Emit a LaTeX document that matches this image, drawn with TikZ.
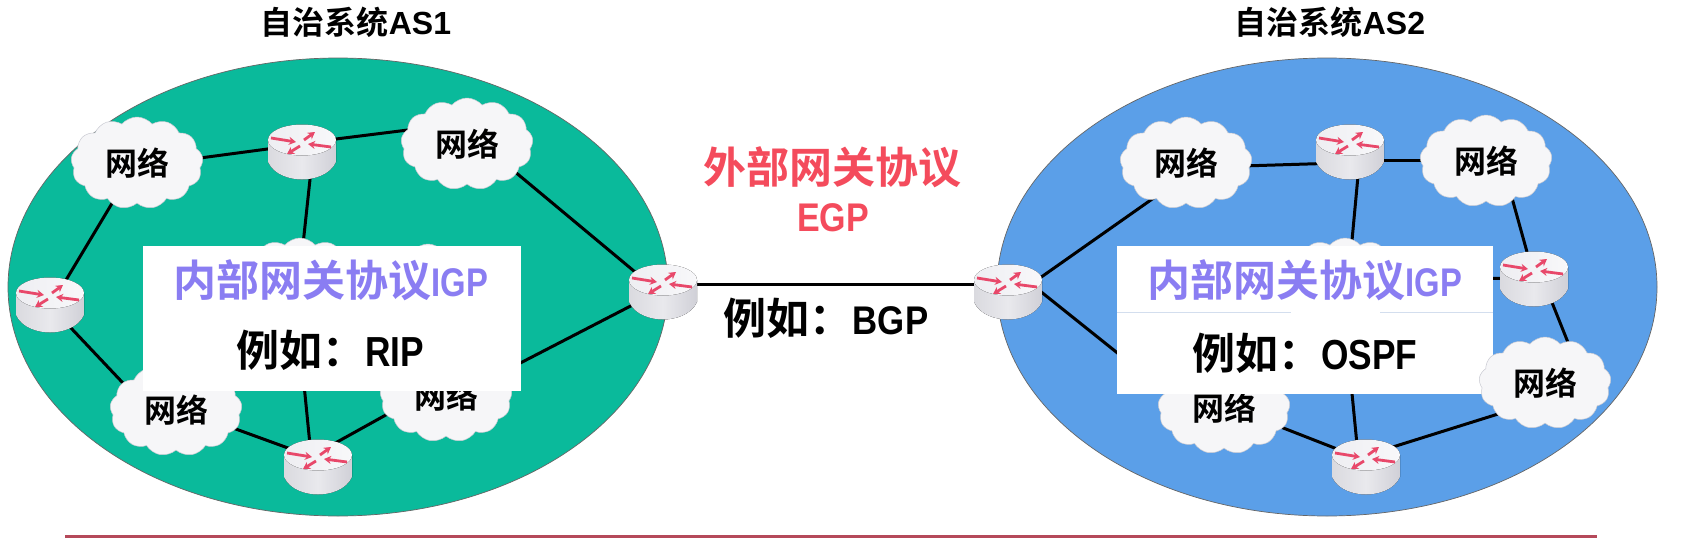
\documentclass[tikz,border=0pt]{standalone}
\usepackage{fontspec}
\usepackage{graphicx}
\usetikzlibrary{shapes.symbols,arrows.meta,calc}
\setmainfont{Liberation Sans}
\newfontfamily\cjk{Noto Sans CJK SC}[BoldFont={Noto Sans CJK SC Bold}]
\definecolor{asgreen}{HTML}{0ABA9B}
\definecolor{asblue}{HTML}{5B9FE8}
\definecolor{igppurple}{HTML}{8A7DF2}
\definecolor{egpred}{HTML}{F44B5C}
\definecolor{arrowred}{HTML}{E8486A}
\definecolor{cloudfill}{HTML}{F6F6F8}
\definecolor{cloudedge}{HTML}{C9CAD2}
\definecolor{bodyl}{HTML}{DADADF}
\definecolor{bodyr}{HTML}{D0D0D7}
\definecolor{bodym}{HTML}{E9E9ED}
\definecolor{topl}{HTML}{EEEEF2}
\definecolor{topr}{HTML}{F8F8FA}
\definecolor{rulered}{HTML}{B5495A}
\definecolor{seamc}{HTML}{D3DEEE}
\pgfdeclarelayer{ell}\pgfdeclarelayer{edge}\pgfdeclarelayer{boxl}\pgfdeclarelayer{front}
\pgfsetlayers{ell,edge,main,boxl,front}
\newcommand{\CN}[2]{{\fontsize{#1}{#1}\bfseries\cjk #2}}
\newcommand{\LM}[3]{{\fontsize{#1}{#1}\bfseries\scalebox{#2}[1]{#3}}}
\tikzset{
  asell/.style={draw=black!60,line width=0.7pt},
  netcloud/.style={cloud,cloud puffs=13,cloud puff arc=100,aspect=1.4,draw=cloudedge,line width=0.5pt,fill=cloudfill,
    minimum width=132pt,minimum height=92pt,inner sep=0pt,text=black},
  routerbox/.style={rectangle,minimum width=68pt,minimum height=55pt,inner sep=0pt,
    path picture={
      \begin{scope}[shift={(path picture bounding box.center)}]
        \fill[left color=bodyl,right color=bodyr,middle color=bodym] (-34,-12) -- (-34,10) .. controls (-28,23) and (-12,27.5) .. (0,27.5) .. controls (12,27.5) and (28,23) .. (34,10) -- (34,-12) -- cycle;
        \fill[left color=topl,right color=topr] (0,-12) ellipse [x radius=34,y radius=15.5];
        \foreach \xa/\ya/\xb/\yb in {-31/-14/-6/-10,2/-12/13/-20,29/-5/6/-8,-2/-6/-15/2}
          \draw[arrowred,line width=2.8pt,-{Stealth[length=7pt,width=8pt]}] (\xa,\ya) -- (\xb,\yb);
      \end{scope}
    }},
  linkline/.style={line width=3pt,black},
  whitepanel/.style={fill=white,draw=none},
  titletext/.style={inner sep=0pt,text=black},
  igptext/.style={inner sep=0pt,text=igppurple},
  exampletext/.style={inner sep=0pt,text=black},
  egptext/.style={inner sep=0pt,text=egpred},
  seamline/.style={draw=seamc,line width=0.8pt},
}
\newcommand{\lk}[6]{\draw[linkline] ([shift={(#2,#3)}]#1.center) -- ([shift={(#5,#6)}]#4.center);}
\begin{document}
\begin{tikzpicture}[x=1pt,y=-1pt]
\useasboundingbox (0,0) rectangle (1687,538);
\begin{pgfonlayer}{ell}
  \fill[white] (0,0) rectangle (1687,538);
  \draw[asell,fill=asgreen] (338,287) ellipse [x radius=330,y radius=229];
  \draw[asell,fill=asblue] (1327,287) ellipse [x radius=330,y radius=229];
  \draw[rulered,line width=3pt] (65,536.5) -- (1597,536.5);
\end{pgfonlayer}
% titles
\node[titletext] (t1) at (356,22) {\CN{32}{自治系统}{\fontsize{32}{32}\bfseries AS1}};
\node[titletext] (t2) at (1330,22) {\CN{32}{自治系统}{\fontsize{32}{32}\bfseries AS2}};
% AS1
\node[netcloud] (a1) at (137,163) {\CN{32}{网络}};
\node[netcloud] (a2) at (467,144) {\CN{32}{网络}};
\node[netcloud] (a3) at (176,410) {\CN{32}{网络}};
\node[netcloud] (a4) at (446,396) {\CN{32}{网络}};
\node[netcloud] (ac) at (300,284) {};
\node[netcloud] (ah) at (428,290) {};
\node[routerbox] (rt) at (302,152) {};
\node[routerbox] (rl) at (50,305) {};
\node[routerbox] (rb) at (318,467) {};
\node[routerbox] (rr) at (663,292) {};
% AS2
\node[netcloud] (b1) at (1186,163) {\CN{32}{网络}};
\node[netcloud] (b2) at (1486,161) {\CN{32}{网络}};
\node[netcloud] (b4) at (1224,408) {\CN{32}{网络}};
\node[netcloud] (bc) at (1345,284) {};
\node[routerbox] (st) at (1350,152) {};
\node[routerbox] (sb) at (1366,467) {};
\node[routerbox] (sl) at (1008,292) {};
\begin{pgfonlayer}{front}
  \node[netcloud] (b3) at (1545,383) {\CN{32}{网络}};
  \node[routerbox] (sr) at (1534,279) {};
\end{pgfonlayer}
\begin{pgfonlayer}{edge}
  \lk{a1}{33}{-1}{rt}{-12}{-6}
  \lk{rt}{18}{-11}{a2}{-27}{-18}
  \lk{rt}{9}{18}{ac}{2}{-30}
  \lk{a1}{-17}{27}{rl}{4}{-5}
  \lk{rl}{4}{5}{a3}{-37}{-10}
  \lk{a3}{24}{6}{rb}{-8}{-11}
  \lk{rb}{-7}{-12}{ac}{-1}{50}
  \lk{rb}{2}{-15.5}{a4}{-26}{0}
  \lk{a2}{23}{7}{rr}{-8}{-3.4}
  \lk{rr}{-13}{4}{a4}{24}{-7}
  \lk{rr}{0}{-8}{sl}{0}{-8}
  \lk{b1}{24}{4}{st}{-10}{11}
  \lk{st}{20}{8}{b2}{-20}{-1}
  \lk{st}{9}{13}{bc}{5}{-22}
  \lk{b2}{21}{19}{sr}{-2}{-9}
  \lk{bc}{40}{-4}{sr}{-10}{-1}
  \lk{sr}{13}{11}{b3}{34}{-13}
  \lk{sb}{14}{-16}{b3}{-15}{21}
  \lk{sb}{-8}{-12}{bc}{2}{58}
  \lk{b4}{26}{7}{sb}{-11}{-11}
  \lk{sl}{12}{0}{b1}{-16}{23.5}
  \lk{sl}{17}{-13}{b4}{-24}{11}
\end{pgfonlayer}
\begin{pgfonlayer}{boxl}
  \fill[whitepanel] (143,246) rectangle (521,391);
  \fill[whitepanel] (1117,246) rectangle (1493,394);
  \draw[seamline] (1117,312) -- (1291,312);
  \draw[seamline] (1380,312) -- (1493,312);
  \node[igptext] (i1) at (331,280) {\CN{43}{内部网关协议}\LM{40}{0.82}{IGP}};
  \node[exampletext] (e1) at (330,350) {\CN{43}{例如：}\LM{42}{0.84}{RIP}};
  \node[igptext] (i2) at (1305,280) {\CN{43}{内部网关协议}\LM{40}{0.82}{IGP}};
  \node[exampletext] (e2) at (1305,353) {\CN{43}{例如：}\LM{42}{0.84}{OSPF}};
\end{pgfonlayer}
\node[egptext] (x1) at (832,167) {\CN{43}{外部网关协议}};
\node[egptext] (x2) at (833,218) {\LM{40}{0.85}{EGP}};
\node[exampletext] (x3) at (826,318) {\CN{43}{例如：}\LM{40}{0.87}{BGP}};
\end{tikzpicture}
\end{document}
